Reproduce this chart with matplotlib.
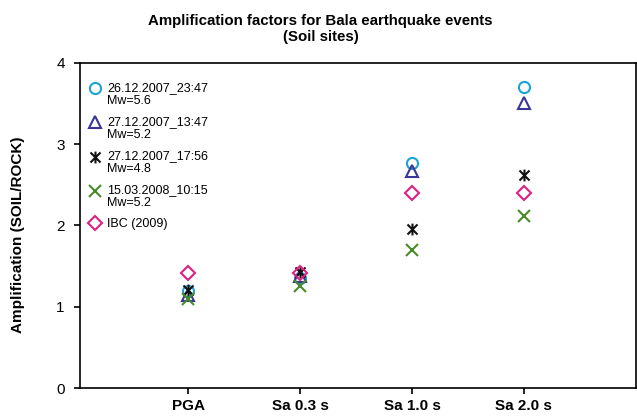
import matplotlib
matplotlib.use("Agg")
import matplotlib.pyplot as plt
from matplotlib.path import Path
from matplotlib.legend_handler import HandlerLine2D

plt.rcParams['font.family'] = ['Liberation Sans', 'DejaVu Sans']

categories = ["PGA", "Sa 0.3 s", "Sa 1.0 s", "Sa 2.0 s"]
ev1 = [1.19, 1.35, 2.77, 3.70]   # 26.12.2007_23:47 Mw=5.6
ev2 = [1.15, 1.38, 2.67, 3.51]   # 27.12.2007_13:47 Mw=5.2
ev3 = [1.20, 1.43, 1.95, 2.62]   # 27.12.2007_17:56 Mw=4.8
ev4 = [1.10, 1.25, 1.70, 2.11]   # 15.03.2008_10:15 Mw=5.2
ibc = [1.42, 1.41, 2.40, 2.40]   # IBC (2009)

labels = ["26.12.2007_23:47\nMw=5.6", "27.12.2007_13:47\nMw=5.2",
          "27.12.2007_17:56\nMw=4.8", "15.03.2008_10:15\nMw=5.2", "IBC (2009)"]

# asterisk marker: vertical bar plus an X
star = Path([(0, -1), (0, 1), (-0.85, -0.85), (0.85, 0.85), (-0.85, 0.85), (0.85, -0.85)],
            [Path.MOVETO, Path.LINETO, Path.MOVETO, Path.LINETO, Path.MOVETO, Path.LINETO])


class HandlerUp(HandlerLine2D):
    """Place the legend marker level with the first line of a two-line label."""
    def __init__(self, shift=0.0, **kw):
        super().__init__(**kw)
        self.shift = shift

    def create_artists(self, legend, orig_handle, xdescent, ydescent, width,
                       height, fontsize, trans):
        arts = super().create_artists(legend, orig_handle, xdescent, ydescent,
                                      width, height, fontsize, trans)
        for a in arts:
            a.set_ydata([y + self.shift for y in a.get_ydata()])
        return arts


fig = plt.figure(figsize=(6.37, 4.16), dpi=100)
ax = fig.add_axes([0.1256, 0.0673, 0.8724, 0.7817])

x = list(range(1, len(categories) + 1))
h1, = ax.plot(x, ev1, ls='none', marker='o', ms=8, mfc='none', mec='#1ba3d8', mew=1.5, label=labels[0])
h2, = ax.plot(x, ev2, ls='none', marker='^', ms=8, mfc='none', mec='#3a3597', mew=1.5, label=labels[1])
h3, = ax.plot(x, ev3, ls='none', marker=star, ms=8.5, mfc='none', mec='#111111', mew=1.5, label=labels[2])
h4, = ax.plot(x, ev4, ls='none', marker='x', ms=8, mfc='none', mec='#4a8a2c', mew=1.5, label=labels[3])
h5, = ax.plot(x, ibc, ls='none', marker='D', ms=7.5, mfc='none', mec='#e0207f', mew=1.5, label=labels[4])

ax.set_xlim(0.03, 5.0)
ax.set_ylim(0, 4)
ax.set_yticks([0, 1, 2, 3, 4])
ax.set_xticks(x)
ax.set_xticklabels(categories, fontsize=11, fontweight='bold')
ax.tick_params(axis='y', labelsize=11, direction='out', length=4, width=1.2, pad=7)
ax.tick_params(axis='x', direction='out', length=4, width=1.2, pad=4)
for s in ax.spines.values():
    s.set_linewidth(1.2)

ax.set_ylabel("Amplification (SOIL/ROCK)", fontsize=11, fontweight='bold')
ax.yaxis.set_label_coords(-0.099, 0.47)
fig.text(0.503, 1 - 29 / 416, "Amplification factors for Bala earthquake events\n(Soil sites)",
         fontsize=10.8, fontweight='bold', ha='center', va='center', linespacing=1.25)

up = HandlerUp(shift=4.5)
leg = ax.legend(handles=[h1, h2, h3, h4, h5], loc='upper left', frameon=False,
                fontsize=9, handletextpad=0.5, handlelength=1.0, labelspacing=0.7,
                borderaxespad=0, bbox_to_anchor=(0.006, 0.957),
                handler_map={h1: up, h2: up, h3: up, h4: up})
for t in leg.get_texts():
    t.set_linespacing(1.15)

fig.savefig("out.png", dpi=100)
